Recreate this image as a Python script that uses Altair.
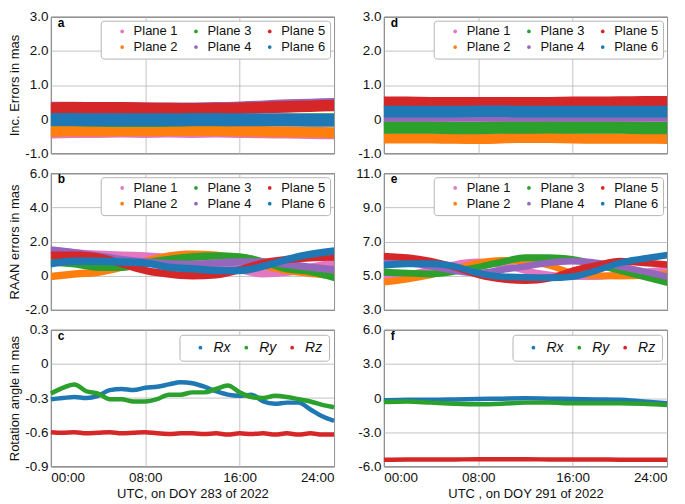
import altair as alt
import pandas as pd

FONT = "Liberation Sans"
W, H = 284, 137

PLANES = ["Plane 1", "Plane 2", "Plane 3", "Plane 4", "Plane 5", "Plane 6"]
PLANE_COLORS = ["#e377c2", "#ff7f0e", "#2ca02c", "#9467bd", "#d62728", "#1f77b4"]

ROT_NAMES = ["Rx", "Ry", "Rz"]
ROT_COLORS = ["#1f77b4", "#2ca02c", "#d62728"]

BAND_HOURS = [0, 2, 4, 6, 8, 10, 12, 14, 16, 18, 20, 22, 24]
LINE_HOURS = list(range(25))

# panel a: inclination errors, DOY 283 (band centre per plane, mas)
inc_283 = [
    [-0.42, -0.40, -0.40, -0.39, -0.40, -0.39, -0.40, -0.39, -0.40, -0.41, -0.42, -0.43, -0.44],
    [-0.36, -0.35, -0.35, -0.34, -0.34, -0.33, -0.33, -0.33, -0.35, -0.36, -0.37, -0.38, -0.40],
    [-0.04, -0.04, -0.05, -0.06, -0.06, -0.05, -0.04, -0.04, -0.03, -0.02, -0.01, 0.00, 0.00],
    [0.34, 0.34, 0.33, 0.33, 0.32, 0.32, 0.32, 0.33, 0.35, 0.38, 0.41, 0.43, 0.45],
    [0.32, 0.33, 0.33, 0.33, 0.32, 0.31, 0.30, 0.31, 0.32, 0.34, 0.36, 0.38, 0.40],
    [-0.01, -0.01, -0.02, -0.02, -0.02, -0.02, -0.01, -0.01, -0.02, -0.02, -0.02, -0.03, -0.03],
]
inc_283_hw = [0.15, 0.16, 0.17, 0.17, 0.17, 0.19]

# panel d: inclination errors, DOY 291
inc_291 = [
    [-0.08, -0.08, -0.09, -0.09, -0.08, -0.08, -0.08, -0.08, -0.08, -0.08, -0.08, -0.09, -0.09],
    [-0.56, -0.56, -0.56, -0.57, -0.58, -0.56, -0.55, -0.55, -0.56, -0.57, -0.57, -0.57, -0.58],
    [-0.25, -0.25, -0.25, -0.26, -0.26, -0.25, -0.25, -0.24, -0.25, -0.25, -0.25, -0.26, -0.26],
    [0.03, 0.03, 0.03, 0.03, 0.03, 0.03, 0.03, 0.03, 0.03, 0.03, 0.03, 0.03, 0.03],
    [0.50, 0.50, 0.49, 0.49, 0.49, 0.49, 0.49, 0.49, 0.50, 0.50, 0.51, 0.52, 0.52],
    [0.22, 0.22, 0.22, 0.22, 0.23, 0.23, 0.22, 0.22, 0.22, 0.22, 0.22, 0.22, 0.22],
]
inc_291_hw = [0.1, 0.15, 0.18, 0.1, 0.16, 0.17]

# panel b: RAAN errors, DOY 283
raan_283 = [
    [1.45, 1.35, 1.25, 1.20, 1.15, 1.05, 0.90, 0.65, 0.35, 0.12, 0.20, 0.50, 0.75],
    [-0.05, 0.10, 0.20, 0.50, 0.85, 1.15, 1.25, 1.20, 0.95, 0.60, 0.30, 0.15, 0.00],
    [0.80, 0.70, 0.50, 0.50, 0.75, 0.95, 1.10, 1.15, 1.10, 0.80, 0.40, 0.25, -0.10],
    [1.50, 1.35, 1.15, 0.95, 0.80, 0.70, 0.65, 0.75, 0.80, 0.80, 0.67, 0.50, 0.35],
    [1.20, 1.20, 1.10, 0.70, 0.30, 0.10, 0.00, 0.05, 0.35, 0.75, 0.95, 1.05, 1.10],
    [0.70, 0.85, 0.85, 0.80, 0.75, 0.50, 0.40, 0.30, 0.30, 0.55, 0.95, 1.25, 1.45],
]
raan_283_hw = [0.22, 0.22, 0.22, 0.22, 0.22, 0.22]

# panel e: RAAN errors, DOY 291
raan_291 = [
    [4.90, 5.05, 5.35, 5.65, 5.80, 5.65, 5.30, 5.05, 4.95, 4.95, 5.05, 5.20, 5.35],
    [4.62, 4.80, 5.05, 5.40, 5.75, 5.90, 5.85, 5.60, 5.15, 5.00, 4.98, 5.00, 5.10],
    [5.20, 5.15, 5.10, 5.25, 5.50, 5.80, 6.05, 6.05, 5.95, 5.65, 5.30, 4.95, 4.60],
    [5.90, 5.75, 5.55, 5.30, 5.15, 5.35, 5.55, 5.75, 5.85, 5.75, 5.55, 5.25, 4.95],
    [6.15, 6.05, 5.85, 5.50, 5.05, 4.80, 4.72, 4.85, 5.30, 5.60, 5.85, 5.75, 5.65],
    [5.60, 5.70, 5.70, 5.55, 5.15, 4.95, 4.90, 4.88, 4.95, 5.30, 5.75, 6.00, 6.20],
]
raan_291_hw = [0.2, 0.2, 0.2, 0.2, 0.2, 0.2]

# panel c: rotation angles, DOY 283 (hourly)
rot_283 = [
    [-0.31, -0.30, -0.29, -0.30, -0.28, -0.23, -0.22, -0.23, -0.21, -0.20, -0.18, -0.16, -0.17,
     -0.20, -0.24, -0.27, -0.28, -0.27, -0.33, -0.35, -0.34, -0.34, -0.40, -0.46, -0.50],
    [-0.26, -0.21, -0.18, -0.24, -0.26, -0.31, -0.31, -0.33, -0.33, -0.31, -0.27, -0.27, -0.25,
     -0.25, -0.22, -0.19, -0.25, -0.29, -0.30, -0.28, -0.29, -0.31, -0.33, -0.36, -0.38],
    [-0.600, -0.605, -0.600, -0.610, -0.605, -0.600, -0.610, -0.605, -0.600, -0.610, -0.615, -0.610, -0.610,
     -0.615, -0.610, -0.620, -0.610, -0.615, -0.610, -0.620, -0.610, -0.620, -0.610, -0.620, -0.620],
]

# panel f: rotation angles, DOY 291 (two-hourly)
rot_291 = [
    [-0.20, -0.15, -0.15, -0.12, -0.08, -0.05, -0.02, -0.05, -0.08, -0.12, -0.15, -0.30, -0.45],
    [-0.35, -0.30, -0.40, -0.50, -0.55, -0.50, -0.40, -0.40, -0.45, -0.45, -0.45, -0.50, -0.60],
    [-5.42, -5.40, -5.40, -5.39, -5.38, -5.38, -5.38, -5.39, -5.40, -5.40, -5.41, -5.41, -5.42],
]

Y_LABEL = "datum.value == 0 ? '0' : (datum.value < 0 ? '-' : '') + format(abs(datum.value), '.1f')"
X_LABEL = "(datum.value < 10 ? '0' : '') + datum.value + ':00'"


def x_enc(xtitle):
    if xtitle:
        axis = alt.Axis(values=[0, 8, 16, 24], labelExpr=X_LABEL, title=xtitle,
                        ticks=False, domain=False, labelPadding=4, titlePadding=4)
    else:
        axis = alt.Axis(values=[0, 8, 16, 24], labels=False, title=None,
                        ticks=False, domain=False)
    return alt.X("hour:Q", scale=alt.Scale(domain=[0, 24], nice=False, zero=False), axis=axis)


def y_axis(yvals, ytitle):
    if ytitle:
        return alt.Axis(values=yvals, labelExpr=Y_LABEL, title=ytitle, ticks=False,
                        domain=False, labelPadding=3, titlePadding=3)
    return alt.Axis(values=yvals, labelExpr=Y_LABEL, title=None, ticks=False,
                    domain=False, labelPadding=3)


def panel_title(letter):
    return alt.TitleParams(letter, anchor="start", frame="group", dx=7, dy=20, offset=0,
                           baseline="top", fontSize=12, fontWeight="bold", font=FONT)


plane_legend = alt.Legend(
    title=None, orient="top-right", offset=4, columns=3, symbolType="circle",
    symbolSize=14, symbolStrokeWidth=0, symbolOffset=11, labelOffset=5,
    columnPadding=0, rowPadding=2, padding=4, labelFont=FONT, labelFontSize=13,
    labelColor="#111", strokeColor="#b5b5b5", cornerRadius=3, fillColor="white",
)

rot_legend = alt.Legend(
    title=None, orient="top-right", offset=5, columns=3, direction="horizontal",
    symbolType="circle", symbolSize=4, symbolStrokeWidth=1.8, symbolOffset=8,
    labelOffset=6, columnPadding=0, padding=6, labelFont=FONT, labelFontSize=14,
    labelFontStyle="italic", labelColor="#111", strokeColor="#b5b5b5",
    cornerRadius=3, fillColor="white",
)


def band_panel(centres, hws, ydom, yvals, letter, ytitle=None, xtitle=None):
    rows = []
    for plane, cs, hw in zip(PLANES, centres, hws):
        for h, c in zip(BAND_HOURS, cs):
            rows.append({"plane": plane, "hour": h, "centre": c, "hw": hw})
    df = pd.DataFrame(rows)
    color = alt.Color("plane:N", scale=alt.Scale(domain=PLANES, range=PLANE_COLORS),
                      legend=plane_legend)
    layers = []
    for plane in PLANES:
        layers.append(
            alt.Chart(df).transform_filter(alt.datum.plane == plane)
            .transform_calculate(lo="datum.centre - datum.hw", hi="datum.centre + datum.hw")
            .mark_area(interpolate="monotone", opacity=1)
            .encode(
                x=x_enc(xtitle),
                y=alt.Y("lo:Q", scale=alt.Scale(domain=ydom, nice=False, zero=False),
                        axis=y_axis(yvals, ytitle)),
                y2="hi:Q",
                color=color,
            )
        )
    return alt.layer(*layers, title=panel_title(letter)).properties(width=W, height=H)


def rot_panel(series, hours, ydom, yvals, letter, ytitle=None, xtitle=None):
    rows = []
    for name, vals in zip(ROT_NAMES, series):
        for h, v in zip(hours, vals):
            rows.append({"comp": name, "hour": h, "angle": v})
    df = pd.DataFrame(rows)
    color = alt.Color("comp:N", scale=alt.Scale(domain=ROT_NAMES, range=ROT_COLORS),
                      legend=rot_legend)
    layers = []
    for name in ROT_NAMES:
        layers.append(
            alt.Chart(df).transform_filter(alt.datum.comp == name)
            .mark_line(strokeWidth=4.5, interpolate="monotone")
            .encode(
                x=x_enc(xtitle),
                y=alt.Y("angle:Q", scale=alt.Scale(domain=ydom, nice=False, zero=False),
                        axis=y_axis(yvals, ytitle)),
                color=color,
            )
        )
    return alt.layer(*layers, title=panel_title(letter)).properties(width=W, height=H)


a = band_panel(inc_283, inc_283_hw, [-1, 3], [-1, 0, 1, 2, 3], "a", ytitle="Inc. Errors in mas")
b = band_panel(raan_283, raan_283_hw, [-2, 6], [-2, 0, 2, 4, 6], "b", ytitle="RAAN errors in mas")
c = rot_panel(rot_283, LINE_HOURS, [-0.9, 0.3], [-0.9, -0.6, -0.3, 0, 0.3], "c",
              ytitle="Rotation angle in mas", xtitle="UTC, on DOY 283 of 2022")
d = band_panel(inc_291, inc_291_hw, [-1, 3], [-1, 0, 1, 2, 3], "d")
e = band_panel(raan_291, raan_291_hw, [3, 11], [3, 5, 7, 9, 11], "e")
f = rot_panel(rot_291, BAND_HOURS, [-6, 6], [-6, -3, 0, 3, 6], "f",
              xtitle="UTC , on DOY 291 of 2022")

chart = alt.concat(
    a, d, b, e, c, f, columns=2, bounds="flush",
    spacing=alt.RowColnumber(row=20, column=50),
).resolve_scale(
    y="independent", color="independent"
).properties(padding=0).configure_view(
    stroke="#2a2a2a", strokeWidth=1
).configure_axis(
    gridColor="#b4b4b4", gridWidth=0.8, labelFont=FONT, labelFontSize=13.5,
    labelColor="#111", titleFont=FONT, titleFontSize=13, titleFontWeight="normal",
    titleColor="#111",
)

chart.save("out.html", embed_options={"renderer": "svg", "actions": False})
